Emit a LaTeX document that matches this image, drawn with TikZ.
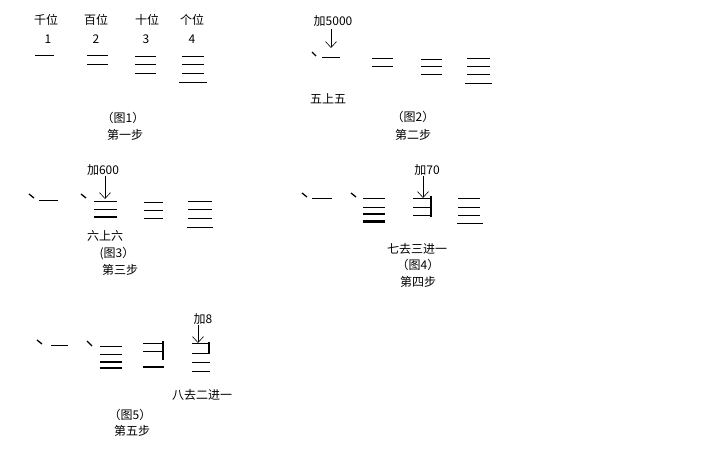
\documentclass[tikz,border=0pt]{standalone}
\usepackage{fontspec}
\newfontfamily\cjk{Noto Sans CJK SC}
\usetikzlibrary{arrows.meta}

\tikzset{
	lbl/.style={font=\cjk\fontsize{12}{14}\selectfont, inner sep=0pt},
	rod/.style={line width=0.9pt},
	boldrod/.style={line width=2.2pt},
	tick/.style={line width=1.3pt},
	addarrow/.style={line width=0.6pt, -{Straight Barb[length=6pt,width=11pt]}}
}

\begin{document}
\begin{tikzpicture}[x=1pt,y=-1pt]
		\useasboundingbox (0,0) rectangle (720,450);

		% figure 1
		\node[lbl] (q) at (46,20) {千位};
		\node[lbl] (b) at (96,20) {百位};
		\node[lbl] (s) at (147,20) {十位};
		\node[lbl] (g) at (192,20) {个位};
		\node[lbl] (q1) at (48,39) {1};
		\node[lbl] (b2) at (96,39) {2};
		\node[lbl] (s3) at (146,39) {3};
		\node[lbl] (g4) at (192,39) {4};

		\draw[rod] (35,55) -- (54,55);

		\draw[rod] (87,55) -- (108,55);
		\draw[rod] (87,64) -- (108,64);

		\draw[rod] (135,56) -- (156,56);
		\draw[rod] (135,64) -- (156,64);
		\draw[rod] (135,73) -- (156,73);

		\draw[rod] (182,56) -- (204,56);
		\draw[rod] (182,64) -- (204,64);
		\draw[rod] (182,73) -- (204,73);
		\draw[rod] (179,82) -- (207,82);

		\node[lbl] (fig1) at (123,118) {（图1）};
		\node[lbl] (step1) at (125,135) {第一步};


		% figure 2
		\node[lbl] (add2) at (333,21) {加5000};
		\coordinate (tip2) at (331,48);
		\draw[addarrow] (add2.south -| tip2) ++(0,2) -- (tip2);

			\draw[tick] (312,52) -- (316,56);
			\draw[rod] (322,57) -- (340,57);

			\draw[rod] (372,58) -- (393,58);
			\draw[rod] (372,66) -- (393,66);

			\draw[rod] (421,59) -- (442,59);
			\draw[rod] (421,66.5) -- (442,66.5);
			\draw[rod] (421,74) -- (442,74);

			\draw[rod] (467,58) -- (490,58);
			\draw[rod] (467,66) -- (490,66);
			\draw[rod] (467,74) -- (490,74);
			\draw[rod] (465,83) -- (492,83);

		\node[lbl] (rule2) at (328,99) {五上五};
		\node[lbl] (fig2) at (413,117) {（图2）};
		\node[lbl] (step2) at (413,135) {第二步};


		% figure 3
		\node[lbl] (add3) at (103,170) {加600};
		\coordinate (tip3) at (105,199);
		\draw[addarrow] (add3.south -| tip3) -- (tip3);

			\draw[tick] (29,194) -- (34,198);
			\draw[rod] (39,200) -- (58,200);

			\draw[tick] (81,194) -- (86,198);
			\draw[rod] (94,201) -- (117,201);
			\draw[rod] (94,209) -- (117,209);
			\draw[boldrod] (94,217) -- (117,217);

			\draw[rod] (144,202) -- (163,202);
			\draw[rod] (144,210) -- (163,210);
			\draw[rod] (144,218) -- (163,218);

			\draw[rod] (188,201) -- (212,201);
			\draw[rod] (188,209) -- (212,209);
			\draw[rod] (188,218) -- (212,218);
			\draw[rod] (187,227) -- (213,227);

		\node[lbl] (rule3) at (105,236) {六上六};
		\node[lbl] (fig3) at (117,254) {(图3）};
		\node[lbl] (step3) at (120,270) {第三步};


		% figure 4
		\node[lbl] (add4) at (427,170) {加70};
		\coordinate (tip4) at (423,198);
		\draw[addarrow] (add4.south -| tip4) -- (tip4);

			\draw[tick] (302,193) -- (307,197);
			\draw[rod] (312,198) -- (332,198);

			\draw[tick] (351,193) -- (356,197);
			\draw[rod] (363,198) -- (385,198);
			\draw[rod] (363,207) -- (385,207);
			\draw[boldrod] (363,214) -- (385,214);
			\draw[line width=2.8pt] (363,221.5) -- (385,221.5);

			\draw[rod] (413,198) -- (430,198);
			\draw[rod] (413,207) -- (430,207);
			\draw[rod] (413,215) -- (430,215);
			\draw[boldrod] (431,196) -- (431,217);

			\draw[rod] (458,198) -- (480,198);
			\draw[rod] (458,207) -- (480,207);
			\draw[rod] (458,215) -- (480,215);
			\draw[rod] (457,223) -- (483,223);

		\node[lbl] (rule4) at (417,249) {七去三进一};
		\node[lbl] (fig4) at (418,265) {（图4）};
		\node[lbl] (step4) at (418,282) {第四步};


		% figure 5
		\node[lbl] (add5) at (203,319) {加8};
		\coordinate (tip5) at (198,343);
		\draw[addarrow] (add5.south -| tip5) -- (tip5);

			\draw[tick] (37,340) -- (42,344);
			\draw[rod] (51,345) -- (68,345);

			\draw[tick] (87,341) -- (92,346);
			\draw[rod] (100,346) -- (122,346);
			\draw[rod] (100,354) -- (122,354);
			\draw[boldrod] (100,362) -- (122,362);
			\draw[boldrod] (100,368) -- (122,368);

			\draw[rod] (143,343) -- (162,343);
			\draw[rod] (143,351) -- (162,351);
			\draw[boldrod] (163,341) -- (163,360);
			\draw[boldrod] (143,367) -- (164,367);

			\draw[rod] (192,343) -- (208,343);
			\draw[boldrod] (209,342) -- (209,353);
			\draw[rod] (192,353) -- (210,353);
			\draw[rod] (192,362) -- (210,362);
			\draw[rod] (192,371) -- (210,371);

		\node[lbl] (rule5) at (202,395) {八去二进一};
		\node[lbl] (fig5) at (130,415) {（图5）};
		\node[lbl] (step5) at (132,431) {第五步};

	\end{tikzpicture}
\end{document}
